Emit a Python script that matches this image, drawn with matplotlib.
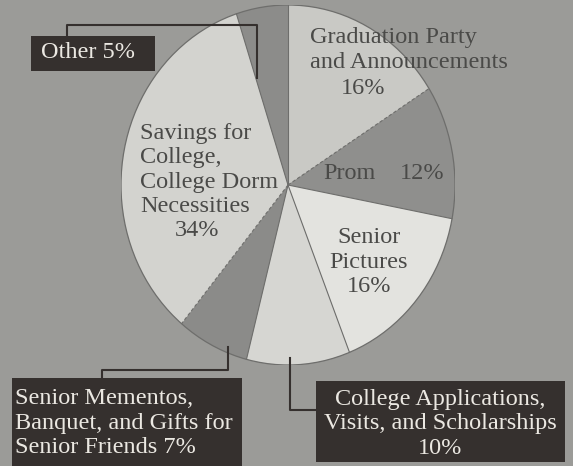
import matplotlib
matplotlib.use("Agg")
import matplotlib.pyplot as plt
from matplotlib.patches import Circle, Rectangle
from matplotlib.lines import Line2D
import numpy as np

# Senior-year spending, clockwise from 12 o'clock
categories = [
    "Graduation Party and Announcements",
    "Prom",
    "Senior Pictures",
    "College Applications, Visits, and Scholarships",
    "Senior Mementos, Banquet, and Gifts for Senior Friends",
    "Savings for College, College Dorm Necessities",
    "Other",
]
shares = [16, 12, 16, 10, 7, 34, 5]
slice_colors = ["#c9c9c5", "#8f8f8d", "#e3e3df", "#d6d6d2",
                "#8b8b89", "#d3d3cf", "#8c8c8a"]
dashed_edges = [0, 4]   # wedges whose clockwise edge is dashed

W, H = 573, 466
BG = "#9b9b98"
BOX = "#35302e"
BOX_TEXT = "#ebe8e2"
INK = "#4a4a48"
FONT = "Liberation Serif"
LS = 1.22


def fx(x):
    return x / W


def fy(y):
    return 1 - y / H


fig = plt.figure(figsize=(W / 100, H / 100), dpi=100, facecolor=BG)

# pie area (slightly taller than wide, as printed)
left, right, top, bottom = 121, 455, 5, 365
ax = fig.add_axes([fx(left), fy(bottom), (right - left) / W, (bottom - top) / H])
wedges, _ = ax.pie(shares, colors=slice_colors, startangle=90, counterclock=False,
                   radius=1, wedgeprops=dict(linewidth=0))
ax.set_aspect("auto")
ax.set_xlim(-1, 1)
ax.set_ylim(-1, 1)
ax.axis("off")

for i, w in enumerate(wedges):
    t = np.deg2rad(w.theta1)
    ax.plot([0, np.cos(t)], [0, np.sin(t)], color="#6e6e6c", lw=0.8,
            ls=(0, (3, 2)) if i in dashed_edges else "-")
ax.add_patch(Circle((0, 0), 1, fill=False, ec="#6e6e6c", lw=0.9))

txt = dict(family=FONT, fontsize=17.5, color=INK, va="center")

# labels inside the pie
fig.text(fx(310), fy(50), "Graduation Party\nand Announcements", ha="left",
         linespacing=LS, **txt)
fig.text(fx(363), fy(89), f"{shares[0]}%", ha="center", **txt)
fig.text(fx(323), fy(173), "Prom", ha="left", **txt)
fig.text(fx(400), fy(173), f"{shares[1]}%", ha="left", **txt)
fig.text(fx(369), fy(262), f"Senior\nPictures\n{shares[2]}%", ha="center",
         multialignment="center", linespacing=LS, **txt)
fig.text(fx(140), fy(170), "Savings for\nCollege,\nCollege Dorm\nNecessities",
         ha="left", linespacing=LS, **txt)
fig.text(fx(197), fy(231), f"{shares[5]}%", ha="center", **txt)


def box(x0, y0, x1, y1):
    fig.add_artist(Rectangle((fx(x0), fy(y1)), (x1 - x0) / W, (y1 - y0) / H,
                             transform=fig.transFigure, fc=BOX, ec="none"))


def leader(points):
    xs = [fx(p[0]) for p in points]
    ys = [fy(p[1]) for p in points]
    fig.add_artist(Line2D(xs, ys, transform=fig.transFigure, color=BOX, lw=1.5))


btxt = dict(family=FONT, fontsize=17.5, color=BOX_TEXT, va="center")

# Other
leader([(67, 36), (67, 25), (257, 25), (257, 78)])
box(31, 36, 155, 71)
fig.text(fx(41), fy(53), f"Other {shares[6]}%", ha="left", **btxt)

# Senior mementos
leader([(102, 378), (102, 370), (228, 370), (228, 347)])
box(12, 378, 242, 470)
fig.text(fx(15), fy(423),
         f"Senior Mementos,\nBanquet, and Gifts for\nSenior Friends {shares[4]}%",
         ha="left", linespacing=LS, **btxt)

# College applications
leader([(316, 410), (290, 410), (290, 358)])
box(316, 381, 565, 462)
fig.text(fx(440), fy(424),
         f"College Applications,\nVisits, and Scholarships\n{shares[3]}%",
         ha="center", multialignment="center", linespacing=LS, **btxt)

fig.savefig("out.png", dpi=100, facecolor=BG)
